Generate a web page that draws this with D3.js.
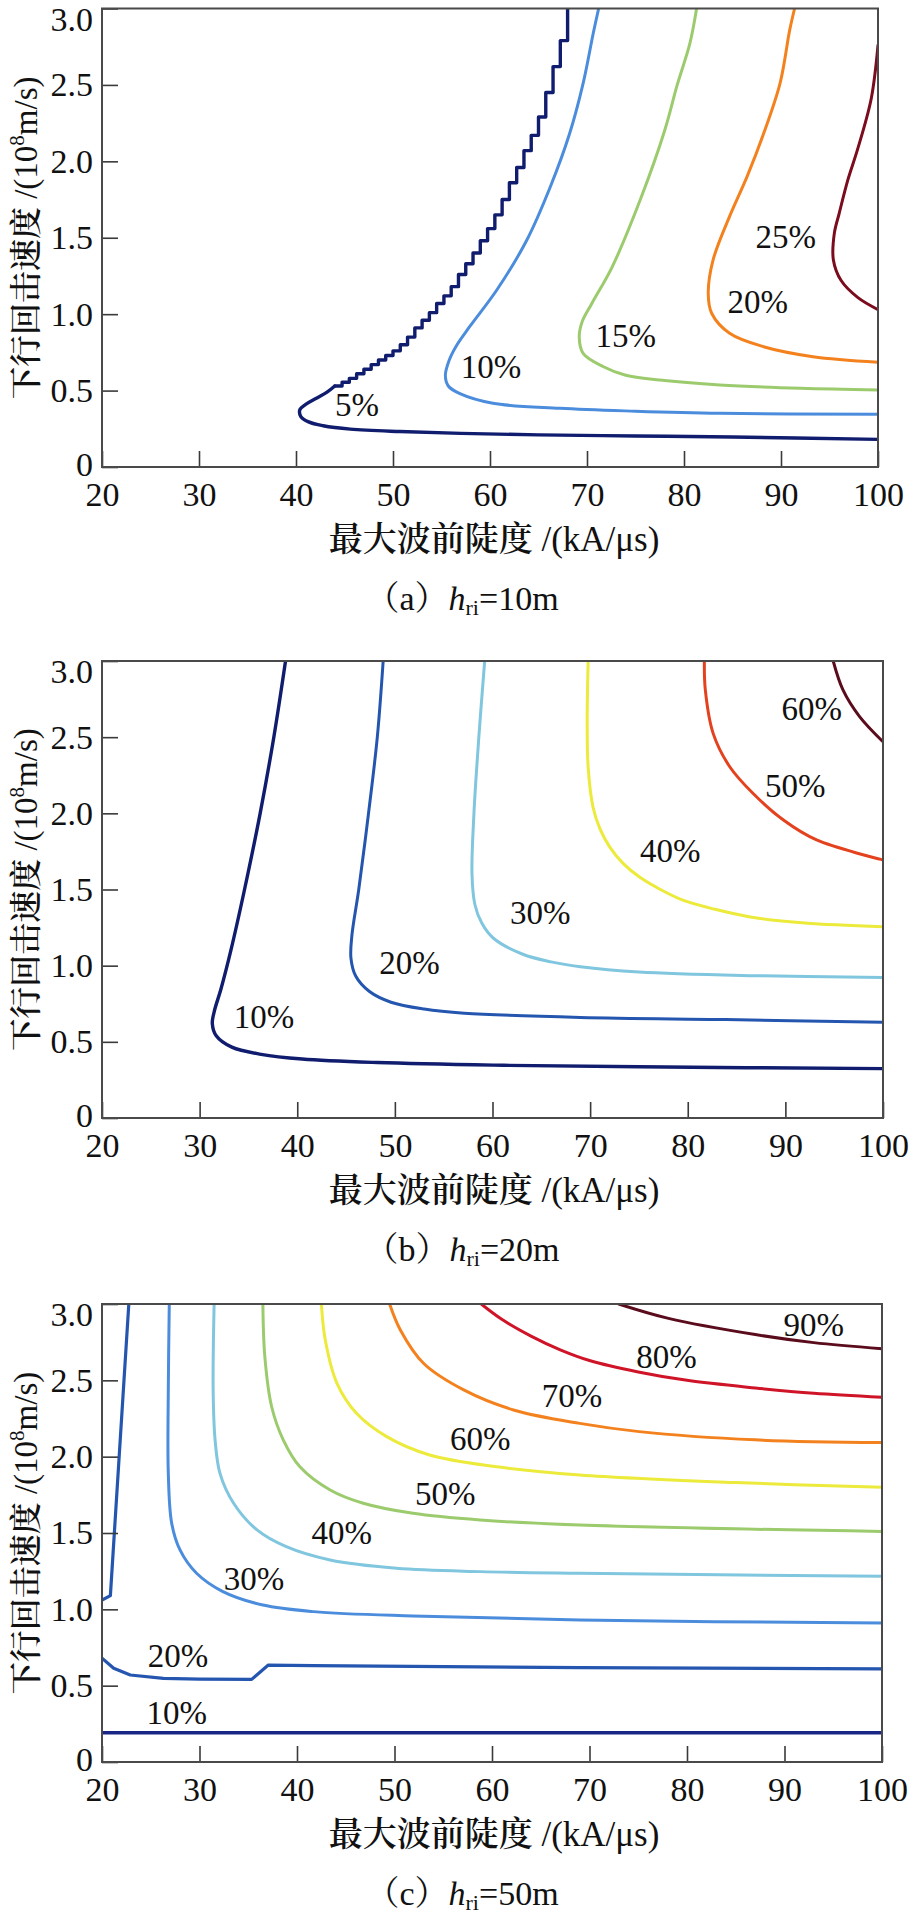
<!DOCTYPE html>
<html><head><meta charset="utf-8">
<script src="https://cdn.jsdelivr.net/npm/d3@7"></script>
<style>body{margin:0;background:#fff} svg{display:block}</style>
</head><body>
<svg id="chart" width="911" height="1914"></svg>
<script>
// ---------- shared axis data ----------
const xTickValues = [20, 30, 40, 50, 60, 70, 80, 90, 100];
const yTickValues = [0, 0.5, 1.0, 1.5, 2.0, 2.5, 3.0];
const xTitleCJK = "最大波前陡度";
const xTitleUnit = " /(kA/μs)";
const yTitleCJK = "下行回击速度";
const yTitleUnit = " /(10";
const yTitleSup = "8";
const yTitleEnd = "m/s)";
const captionLetters = ["a", "b", "c"];
const captionHeights = ["10m", "20m", "50m"];

// ---------- panel (a) h=10m ----------
const a5Steps = [[68.0,3.00],[67.25,2.79],[66.5,2.62],[65.75,2.45],[65.0,2.29],[64.25,2.17],[63.5,2.07],[62.75,1.96],[62.0,1.86],[61.25,1.75],[60.5,1.65],[59.75,1.56],[59.0,1.48],[58.25,1.40],[57.5,1.33],[56.75,1.26],[56.0,1.18],[55.25,1.12],[54.5,1.07],[53.75,1.01],[53.0,0.96],[52.25,0.91],[51.5,0.85],[50.75,0.80],[50.0,0.76],[49.25,0.73],[48.5,0.70],[47.75,0.67],[47.0,0.64],[46.25,0.61],[45.5,0.58],[44.75,0.555],[44.0,0.53]];
const a5Tail = [[44.0,0.53],[43.2,0.49],[42.1,0.45],[41.0,0.41],[40.4,0.375],[40.5,0.33],[41.3,0.295],[42.8,0.27],[45.6,0.248],[50.7,0.232],[57,0.22],[65,0.21],[75,0.203],[85,0.196],[100,0.181]];
const a10 = [[71.2,3.0],[70.65,2.84],[69.6,2.51],[68.2,2.18],[66.2,1.83],[63.8,1.485],[60.7,1.158],[57.9,0.918],[56.6,0.80],[55.8,0.70],[55.4,0.60],[55.7,0.53],[56.9,0.48],[60.3,0.417],[67.2,0.384],[75,0.365],[83.7,0.351],[100,0.345]];
const a15 = [[81.3,3.0],[80.6,2.77],[79.3,2.5],[78.0,2.2],[75.5,1.75],[72.6,1.31],[70.5,1.07],[69.5,0.95],[69.2,0.85],[69.6,0.744],[71.7,0.656],[74,0.6],[77.5,0.569],[83.7,0.537],[92,0.515],[100,0.504]];
const a20 = [[91.4,3.0],[90.9,2.86],[89.9,2.51],[88.2,2.18],[86.5,1.9],[84.7,1.64],[83.0,1.355],[82.5,1.137],[82.85,1.006],[84.7,0.875],[88.2,0.787],[93.3,0.722],[100,0.686]];
const a25 = [[100,2.76],[99.3,2.41],[97.9,2.08],[96.9,1.88],[96.0,1.66],[95.5,1.53],[95.4,1.355],[96.2,1.22],[97.9,1.11],[100,1.03]];
const aLabels = ["5%", "10%", "15%", "20%", "25%"];
const aLabelAt = [[46.3,0.406],[60.1,0.656],[74.0,0.859],[87.6,1.082],[90.5,1.503]];

// ---------- panel (b) h=20m ----------
const b10 = [[38.8,3.0],[37.6,2.5],[36.2,2.0],[34.6,1.5],[33.2,1.1],[32.2,0.85],[31.5,0.7],[31.3,0.62],[31.7,0.54],[33.3,0.465],[36.3,0.418],[40.5,0.387],[48.2,0.364],[60.1,0.347],[75,0.336],[100,0.324]];
const b20 = [[48.8,3.0],[48.2,2.5],[47.3,2.0],[46.3,1.5],[45.6,1.2],[45.5,1.05],[46.0,0.93],[47.4,0.83],[49.6,0.76],[53,0.715],[57.1,0.688],[69.0,0.66],[83.9,0.646],[100,0.629]];
const b30 = [[59.2,3.0],[58.6,2.5],[58.1,2.0],[57.9,1.6],[58.2,1.4],[58.9,1.28],[60.1,1.18],[63.1,1.075],[66,1.025],[69.0,0.993],[75.0,0.958],[86.9,0.934],[100,0.923]];
const b40 = [[69.8,3.0],[69.7,2.6],[69.8,2.3],[70.3,2.04],[71.0,1.9],[72.0,1.78],[73.4,1.67],[75.1,1.58],[77.2,1.5],[79.5,1.43],[82.8,1.37],[86.4,1.32],[92,1.28],[100,1.256]];
const b50 = [[81.7,3.0],[81.8,2.81],[82.6,2.525],[84.3,2.306],[86.7,2.13],[89.8,1.956],[93.2,1.825],[100,1.694]];
const b60 = [[94.9,3.0],[95.9,2.81],[97.6,2.635],[100,2.47]];
const bLabels = ["10%", "20%", "30%", "40%", "50%", "60%"];
const bLabelAt = [[36.6,0.662],[51.5,1.018],[64.9,1.346],[78.2,1.753],[91.0,2.18],[92.7,2.685]];

// ---------- panel (c) h=50m ----------
const c10 = [[20,0.192],[100,0.192]];
const c20 = [[20,0.68],[21.2,0.614],[22.9,0.57],[26.3,0.548],[30,0.543],[35.35,0.541],[37.06,0.635],[41.7,0.631],[69,0.618],[100,0.61]];
const c20Left = [[20,1.06],[20.86,1.09],[22.75,3.0]];
const c30 = [[26.9,3.0],[26.8,2.437],[26.8,1.891],[27.15,1.563],[28.0,1.389],[29.7,1.236],[32.4,1.116],[36.5,1.028],[41.7,0.985],[51.9,0.956],[69.0,0.93],[100,0.91]];
const c40 = [[31.5,3.0],[31.4,2.437],[31.6,2.109],[32.1,1.891],[33.5,1.695],[35.9,1.52],[38.9,1.41],[43.4,1.323],[50.2,1.269],[58.8,1.247],[69.0,1.236],[100,1.216]];
const c50 = [[36.5,3.0],[36.7,2.655],[37.4,2.327],[38.6,2.109],[40.3,1.934],[43.4,1.782],[46.8,1.695],[51.9,1.629],[58.8,1.585],[69.0,1.552],[100,1.51]];
const c60 = [[42.5,3.0],[42.9,2.764],[44.1,2.48],[46.1,2.284],[49.2,2.131],[53.6,2.011],[60.5,1.934],[69.0,1.88],[85,1.83],[100,1.80]];
const c70 = [[49.5,3.0],[50.6,2.83],[53.0,2.61],[57.1,2.437],[62.2,2.306],[69.0,2.218],[75.1,2.164],[87.0,2.11],[100,2.092]];
const c80 = [[58.9,3.0],[61,2.9],[64,2.79],[67,2.70],[70,2.63],[75,2.555],[80,2.5],[87,2.45],[93,2.415],[100,2.389]];
const c90 = [[73.0,3.0],[78.1,2.906],[87.0,2.8],[93.0,2.747],[100,2.707]];
const cLabels = ["10%", "20%", "30%", "40%", "50%", "60%", "70%", "80%", "90%"];
const cLabelAt = [[27.66,0.319],[27.8,0.696],[35.6,1.199],[44.6,1.498],[55.2,1.757],[58.8,2.114],[68.2,2.395],[77.9,2.65],[93.0,2.86]];

// ---------- styles ----------
const col = {
  navy: "#101c6e", blue: "#2456b0", corn: "#4b8ddc", light: "#80c6de",
  green: "#9ccb6e", yellow: "#ecea3a", orange: "#f3821e", redor: "#e4421e",
  red: "#d01428", maroonA: "#7a0c1e", maroon: "#5a0c1c"
};
const latinFont = "'Liberation Serif','Times New Roman',serif";
const cjkFont = "'Noto Serif CJK SC','Noto Sans CJK SC',serif";
const mixedFont = "'Liberation Serif','Noto Serif CJK SC','Noto Sans CJK SC',serif";

const panels = [
  { box: {left:102, right:878, top:8.5, bottom:467},
    series: [
      {pts:a5Steps, curve:d3.curveStepBefore, color:col.navy, w:3.4},
      {pts:a5Tail, curve:d3.curveCatmullRom, color:col.navy, w:3.4},
      {pts:a10, curve:d3.curveCatmullRom, color:col.corn, w:3},
      {pts:a15, curve:d3.curveCatmullRom, color:col.green, w:3},
      {pts:a20, curve:d3.curveCatmullRom, color:col.orange, w:3},
      {pts:a25, curve:d3.curveCatmullRom, color:col.maroonA, w:3}
    ], labels: aLabels, labelAt: aLabelAt },
  { box: {left:102, right:883, top:661, bottom:1118},
    series: [
      {pts:b10, curve:d3.curveCatmullRom, color:col.navy, w:3.4},
      {pts:b20, curve:d3.curveCatmullRom, color:col.blue, w:3},
      {pts:b30, curve:d3.curveCatmullRom, color:col.light, w:3},
      {pts:b40, curve:d3.curveCatmullRom, color:col.yellow, w:3},
      {pts:b50, curve:d3.curveCatmullRom, color:col.redor, w:3},
      {pts:b60, curve:d3.curveCatmullRom, color:col.maroon, w:3}
    ], labels: bLabels, labelAt: bLabelAt },
  { box: {left:102, right:882, top:1304, bottom:1762},
    series: [
      {pts:c10, curve:d3.curveLinear, color:"#1a2686", w:3.4},
      {pts:c20, curve:d3.curveLinear, color:col.blue, w:3.2},
      {pts:c20Left, curve:d3.curveLinear, color:col.blue, w:3.2},
      {pts:c30, curve:d3.curveCatmullRom, color:col.corn, w:3},
      {pts:c40, curve:d3.curveCatmullRom, color:col.light, w:3},
      {pts:c50, curve:d3.curveCatmullRom, color:col.green, w:3},
      {pts:c60, curve:d3.curveCatmullRom, color:col.yellow, w:3},
      {pts:c70, curve:d3.curveCatmullRom, color:col.orange, w:3},
      {pts:c80, curve:d3.curveCatmullRom, color:col.red, w:3},
      {pts:c90, curve:d3.curveCatmullRom, color:col.maroon, w:3}
    ], labels: cLabels, labelAt: cLabelAt }
];

const svg = d3.select("#chart");

panels.forEach((p, i) => {
  const b = p.box;
  const x = d3.scaleLinear().domain([20, 100]).range([b.left, b.right]);
  const y = d3.scaleLinear().domain([0, 3]).range([b.bottom, b.top]);
  const g = svg.append("g");

  const clipId = "clip" + i;
  svg.append("clipPath").attr("id", clipId).append("rect")
    .attr("x", b.left).attr("y", b.top)
    .attr("width", b.right - b.left).attr("height", b.bottom - b.top);

  const cg = g.append("g").attr("clip-path", `url(#${clipId})`);
  p.series.forEach(s => {
    cg.append("path")
      .attr("d", d3.line().x(d => x(d[0])).y(d => y(d[1])).curve(s.curve)(s.pts))
      .attr("fill", "none").attr("stroke", s.color).attr("stroke-width", s.w)
      .attr("stroke-linejoin", "round").attr("stroke-linecap", "round");
  });

  // axes
  const xa = g.append("g").attr("transform", `translate(0,${b.bottom})`)
    .call(d3.axisBottom(x).tickValues(xTickValues).tickSize(-16).tickPadding(15).tickFormat(d3.format("d")));
  const ya = g.append("g").attr("transform", `translate(${b.left},0)`)
    .call(d3.axisLeft(y).tickValues(yTickValues).tickSize(-16).tickPadding(9)
      .tickFormat(d => d === 0 ? "0" : d.toFixed(1)));
  [xa, ya].forEach(a => {
    a.attr("font-family", latinFont).attr("font-size", 34);
    a.select(".domain").remove();
    a.selectAll(".tick line").attr("stroke", "#3a3a3a").attr("stroke-width", 1.6);
    a.selectAll(".tick text").attr("fill", "#111")
      .style("font-family", latinFont).style("font-size", "34px");
  });
  ya.selectAll(".tick text").attr("dy", d => d === 3 ? "0.64em" : (d === 0 ? "0.25em" : "0.32em"));

  // frame
  g.append("rect").attr("x", b.left).attr("y", b.top)
    .attr("width", b.right - b.left).attr("height", b.bottom - b.top)
    .attr("fill", "none").attr("stroke", "#4a4a4a").attr("stroke-width", 2);

  // contour labels
  p.labels.forEach((t, k) => {
    g.append("text").attr("x", x(p.labelAt[k][0])).attr("y", y(p.labelAt[k][1]))
      .attr("text-anchor", "middle").attr("dominant-baseline", "central")
      .style("font-family", latinFont).style("font-size", "33px").attr("fill", "#111").text(t);
  });

  // x title
  const xt = g.append("text").attr("x", 494).attr("y", b.bottom + 84).attr("text-anchor", "middle")
    .style("font-size", "34px").attr("fill", "#111");
  xt.append("tspan").style("font-family", cjkFont).style("font-weight", "600").text(xTitleCJK);
  xt.append("tspan").style("font-family", latinFont).style("font-size", "35px").text(xTitleUnit);

  // y title
  const yc = (b.top + b.bottom) / 2;
  const yt = g.append("text").attr("transform", `translate(37,${yc}) rotate(-90)`)
    .attr("text-anchor", "middle").style("font-size", "32px").attr("fill", "#111");
  yt.append("tspan").style("font-family", cjkFont).style("font-weight", "600").text(yTitleCJK);
  yt.append("tspan").style("font-family", latinFont).style("font-size", "33px").text(yTitleUnit);
  yt.append("tspan").attr("dy", -13).style("font-family", latinFont).style("font-size", "21px").text(yTitleSup);
  yt.append("tspan").attr("dy", 13).style("font-family", latinFont).style("font-size", "33px").text(yTitleEnd);

  // caption
  const cap = g.append("text").attr("x", 462).attr("y", b.bottom + 143).attr("text-anchor", "middle")
    .style("font-family", mixedFont).style("font-size", "34px").attr("fill", "#111");
  cap.append("tspan").text("（" + captionLetters[i] + "）");
  cap.append("tspan").style("font-style", "italic").text("h");
  cap.append("tspan").attr("dy", 5).style("font-size", "22px").text("ri");
  cap.append("tspan").attr("dy", -5).text("=" + captionHeights[i]);
});
</script>
</body></html>
